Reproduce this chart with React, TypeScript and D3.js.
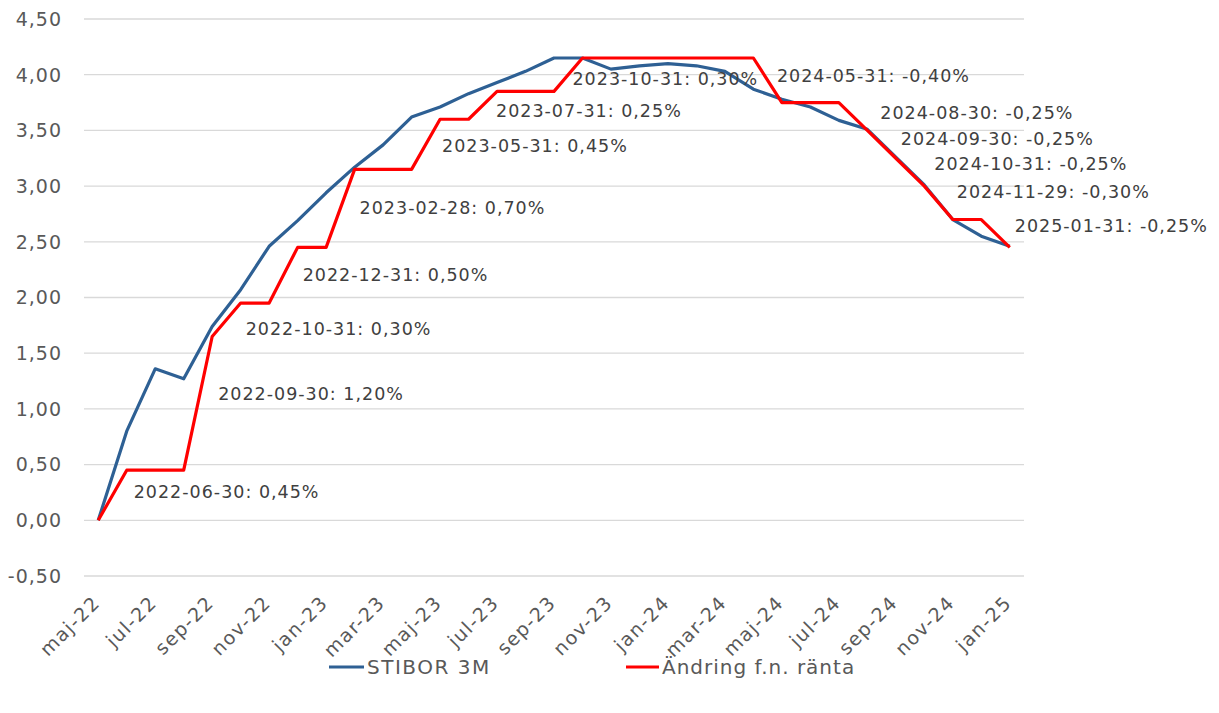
import * as d3 from 'd3';

// ── Data ──────────────────────────────────────────────────────────────────────
const MONTHS = [
  'maj-22', 'jun-22', 'jul-22', 'aug-22', 'sep-22', 'okt-22', 'nov-22', 'dec-22',
  'jan-23', 'feb-23', 'mar-23', 'apr-23', 'maj-23', 'jun-23', 'jul-23', 'aug-23',
  'sep-23', 'okt-23', 'nov-23', 'dec-23', 'jan-24', 'feb-24', 'mar-24', 'apr-24',
  'maj-24', 'jun-24', 'jul-24', 'aug-24', 'sep-24', 'okt-24', 'nov-24', 'dec-24',
  'jan-25',
];

const STIBOR = [
  0.00, 0.80, 1.36, 1.27, 1.74, 2.07, 2.46, 2.69,
  2.94, 3.17, 3.37, 3.62, 3.71, 3.83, 3.93, 4.03,
  4.15, 4.15, 4.05, 4.08, 4.10, 4.08, 4.03, 3.87,
  3.78, 3.71, 3.59, 3.51, 3.26, 3.01, 2.70, 2.55,
  2.46,
];

const RATE = [
  0.00, 0.45, 0.45, 0.45, 1.65, 1.95, 1.95, 2.45,
  2.45, 3.15, 3.15, 3.15, 3.60, 3.60, 3.85, 3.85,
  3.85, 4.15, 4.15, 4.15, 4.15, 4.15, 4.15, 4.15,
  3.75, 3.75, 3.75, 3.50, 3.25, 3.00, 2.70, 2.70,
  2.45,
];

const Y_TICKS = [-0.5, 0, 0.5, 1, 1.5, 2, 2.5, 3, 3.5, 4, 4.5];

const LABEL_IDX = [1, 4, 5, 7, 9, 12, 14, 17, 24, 27, 28, 29, 30, 32];
const LABEL_TEXT = [
  '2022-06-30: 0,45%', '2022-09-30: 1,20%', '2022-10-31: 0,30%', '2022-12-31: 0,50%',
  '2023-02-28: 0,70%', '2023-05-31: 0,45%', '2023-07-31: 0,25%', '2023-10-31: 0,30%',
  '2024-05-31: -0,40%', '2024-08-30: -0,25%', '2024-09-30: -0,25%', '2024-10-31: -0,25%',
  '2024-11-29: -0,30%', '2025-01-31: -0,25%',
];

// ── Layout ────────────────────────────────────────────────────────────────────
const W = 1219;
const H = 713;
const X0 = 84;
const X1 = 1024;
const Y_TOP = 19;
const Y_BOT = 576;

// label offsets (px) from the red point: [dx, dy of text centre]
const LABEL_OFF: [number, number][] = [
  [7, 22], [6, 57], [5, 26], [5, 27], [5, 38], [2, 26], [-1, 19], [-10, 21],
  [-5, -27], [13, -18], [5, -20], [10, -22], [4, -28], [5, -22],
];

const BLUE = '#2e6094';
const RED = '#ff0000';
const GRID = '#d9d9d9';
const TICK = '#595959';
const LABEL = '#404040';
const FONT = '"DejaVu Sans", sans-serif';

const fmt = (v: number) => v.toFixed(2).replace('.', ',');

export default function App() {
  const x = d3.scaleLinear().domain([-0.5, MONTHS.length - 0.5]).range([X0, X1]);
  const y = d3.scaleLinear().domain([-0.5, 4.5]).range([Y_BOT, Y_TOP]);

  const line = d3.line<number>().x((_, i) => x(i)).y(d => y(d));

  return (
    <svg width={W} height={H} style={{ display: 'block', position: 'absolute', left: 0, top: 0 }}>
      <rect width={W} height={H} fill="#fff" />

      {Y_TICKS.map(t => (
        <g key={t}>
          <line x1={X0} x2={X1} y1={y(t)} y2={y(t)} stroke={GRID} strokeWidth={1.3} />
          <text
            x={62} y={y(t)} dy="0.36em" textAnchor="end"
            fontSize={19} letterSpacing={1} fill={TICK} fontFamily={FONT}
          >
            {fmt(t)}
          </text>
        </g>
      ))}

      {MONTHS.map((m, i) => i % 2 === 0 && (
        <text
          key={m}
          transform={`translate(${x(i) + 3},${Y_BOT + 28}) rotate(-45)`}
          textAnchor="end" fontSize={19} letterSpacing={1.5} fill={TICK} fontFamily={FONT}
        >
          {m}
        </text>
      ))}

      <path d={line(STIBOR) ?? ''} fill="none" stroke={BLUE} strokeWidth={3.2} strokeLinejoin="round" />
      <path d={line(RATE) ?? ''} fill="none" stroke={RED} strokeWidth={3.2} strokeLinejoin="round" />

      {LABEL_IDX.map((idx, k) => (
        <text
          key={k}
          x={x(idx) + LABEL_OFF[k][0]} y={y(RATE[idx]) + LABEL_OFF[k][1]}
          dy="0.36em" fontSize={17.5} letterSpacing={1} fill={LABEL} fontFamily={FONT}
        >
          {LABEL_TEXT[k]}
        </text>
      ))}

      {/* Legend */}
      <g transform="translate(329,667)">
        <line x1={0} x2={35} y1={0} y2={0} stroke={BLUE} strokeWidth={3.2} />
        <text x={38} y={0} dy="0.36em" fontSize={20} letterSpacing={1.5} fill={TICK} fontFamily={FONT}>STIBOR 3M</text>
      </g>
      <g transform="translate(626,667)">
        <line x1={0} x2={33} y1={0} y2={0} stroke={RED} strokeWidth={3.2} />
        <text x={36} y={0} dy="0.36em" fontSize={20} letterSpacing={1} fill={TICK} fontFamily={FONT}>Ändring f.n. ränta</text>
      </g>
    </svg>
  );
}
